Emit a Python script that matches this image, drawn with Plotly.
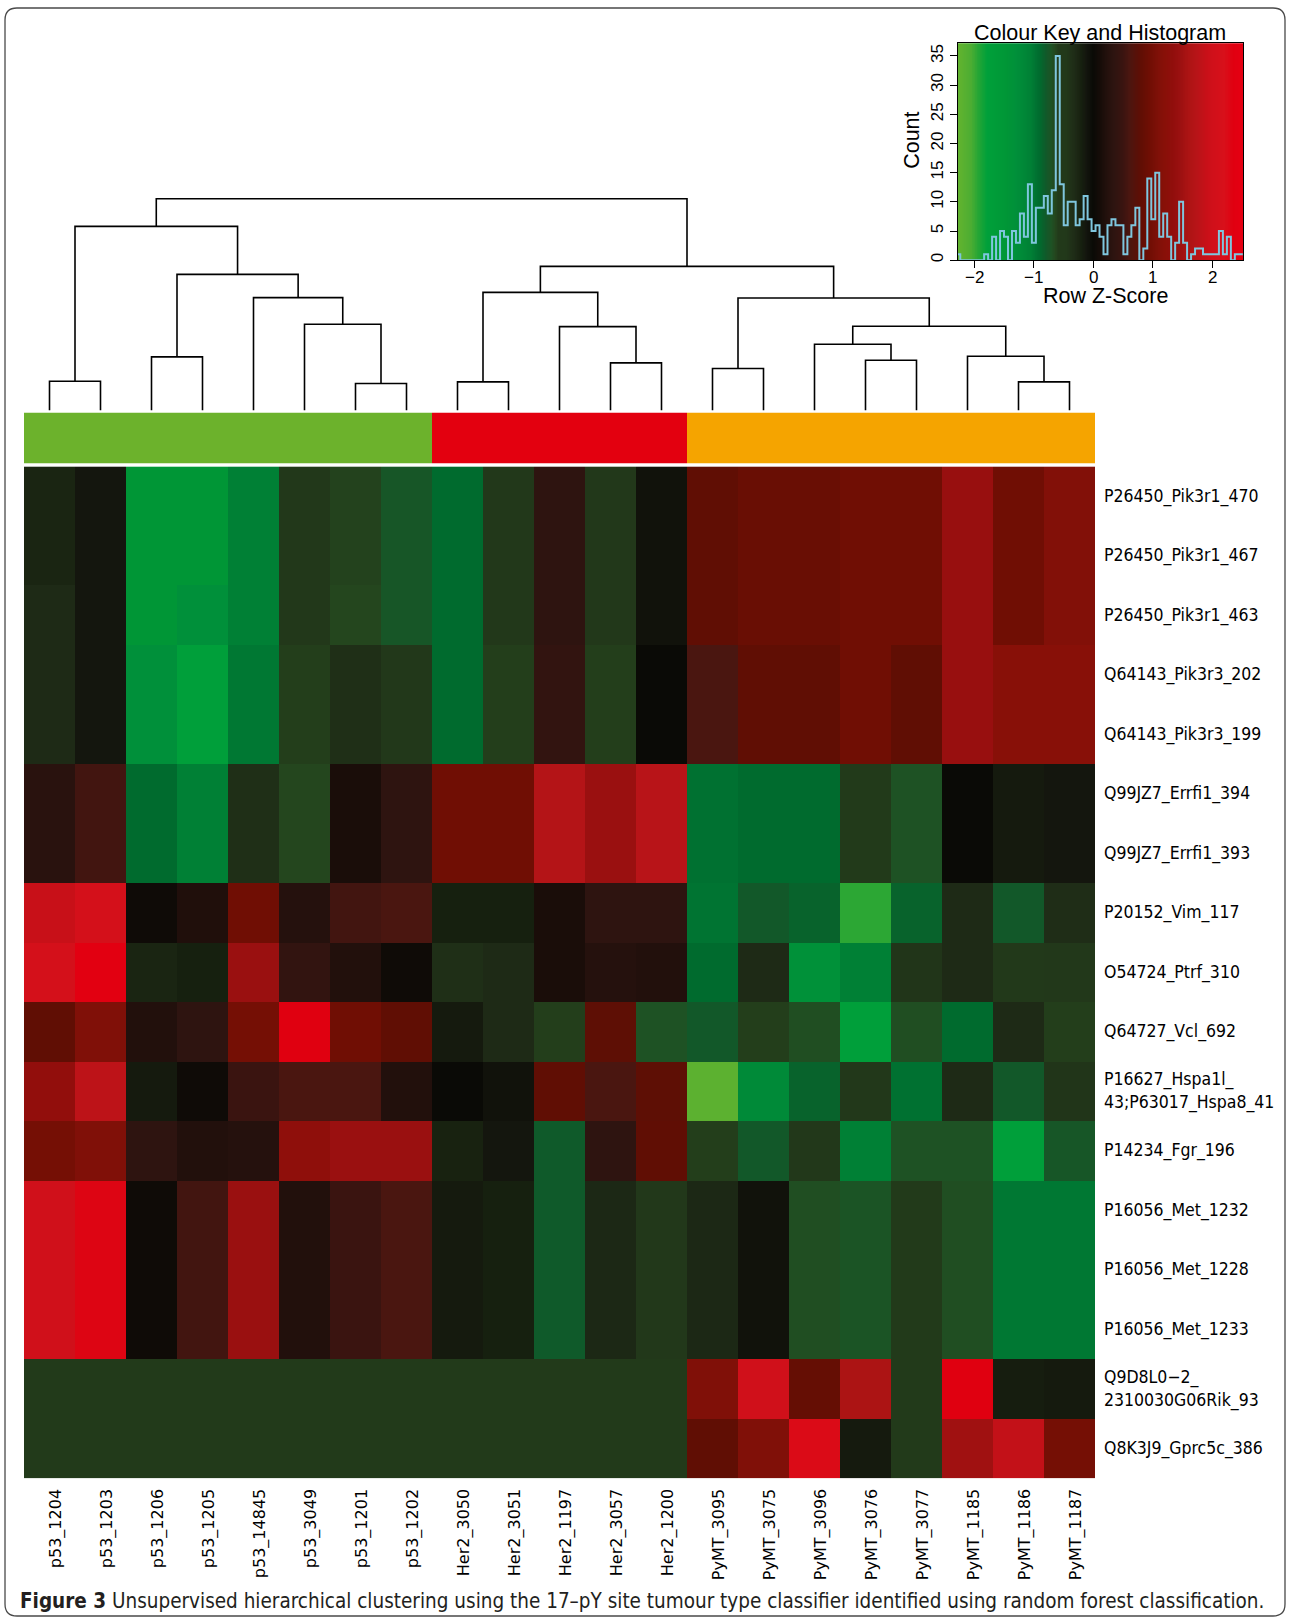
import numpy as np
import plotly.graph_objects as go

W, H = 1290, 1621

# ---------------- data ----------------
columns = ["p53_1204", "p53_1203", "p53_1206", "p53_1205", "p53_14845", "p53_3049",
           "p53_1201", "p53_1202", "Her2_3050", "Her2_3051", "Her2_1197", "Her2_3057",
           "Her2_1200", "PyMT_3095", "PyMT_3075", "PyMT_3096", "PyMT_3076", "PyMT_3077",
           "PyMT_1185", "PyMT_1186", "PyMT_1187"]
column_group = ["p53", "p53", "p53", "p53", "p53", "p53", "p53", "p53",
                "Her2", "Her2", "Her2", "Her2", "Her2",
                "PyMT", "PyMT", "PyMT", "PyMT", "PyMT", "PyMT", "PyMT", "PyMT"]
group_names = ["p53", "Her2", "PyMT"]

rows = ["P26450_Pik3r1_470", "P26450_Pik3r1_467", "P26450_Pik3r1_463",
        "Q64143_Pik3r3_202", "Q64143_Pik3r3_199", "Q99JZ7_Errfi1_394",
        "Q99JZ7_Errfi1_393", "P20152_Vim_117", "O54724_Ptrf_310", "Q64727_Vcl_692",
        "P16627_Hspa1l_<br>43;P63017_Hspa8_41", "P14234_Fgr_196", "P16056_Met_1232",
        "P16056_Met_1228", "P16056_Met_1233", "Q9D8L0−2_<br>2310030G06Rik_93",
        "Q8K3J9_Gprc5c_386"]

# row z-scores (rows x columns)
z = [
    [-0.25, -0.12, -1.45, -1.45, -1.05, -0.45, -0.62, -0.75, -0.90, -0.45, 0.35, -0.45, -0.08, 0.80, 0.88, 0.88, 0.95, 0.95, 1.42, 0.95, 1.12],
    [-0.25, -0.12, -1.45, -1.45, -1.05, -0.45, -0.62, -0.75, -0.90, -0.45, 0.35, -0.45, -0.08, 0.80, 0.88, 0.88, 0.95, 0.95, 1.42, 0.95, 1.12],
    [-0.30, -0.12, -1.45, -1.30, -1.05, -0.45, -0.64, -0.75, -0.90, -0.45, 0.35, -0.45, -0.08, 0.80, 0.88, 0.88, 0.95, 0.95, 1.42, 0.95, 1.12],
    [-0.30, -0.12, -1.30, -1.75, -1.00, -0.60, -0.35, -0.45, -0.90, -0.60, 0.40, -0.60, 0.00, 0.60, 0.80, 0.80, 0.95, 0.80, 1.42, 1.20, 1.20],
    [-0.30, -0.12, -1.30, -1.75, -1.00, -0.60, -0.35, -0.45, -0.90, -0.60, 0.40, -0.60, 0.00, 0.60, 0.80, 0.80, 0.95, 0.80, 1.42, 1.20, 1.20],
    [0.30, 0.55, -0.90, -1.05, -0.35, -0.64, 0.15, 0.35, 0.95, 0.95, 1.70, 1.45, 1.75, -0.95, -0.90, -0.90, -0.55, -0.70, 0.00, -0.15, -0.12],
    [0.30, 0.55, -0.90, -1.05, -0.35, -0.64, 0.15, 0.35, 0.95, 0.95, 1.70, 1.45, 1.75, -0.95, -0.90, -0.90, -0.55, -0.70, 0.00, -0.15, -0.12],
    [1.90, 2.10, 0.05, 0.20, 0.95, 0.25, 0.55, 0.60, -0.20, -0.20, 0.15, 0.35, 0.35, -0.97, -0.78, -0.85, -1.95, -0.85, -0.30, -0.78, -0.33],
    [2.10, 2.40, -0.25, -0.20, 1.45, 0.40, 0.22, 0.05, -0.35, -0.30, 0.15, 0.25, 0.22, -0.90, -0.30, -1.32, -1.05, -0.42, -0.30, -0.50, -0.45],
    [0.80, 1.10, 0.22, 0.35, 1.00, 2.35, 0.95, 0.80, -0.15, -0.30, -0.60, 0.78, -0.70, -0.78, -0.60, -0.68, -1.75, -0.68, -0.90, -0.30, -0.60],
    [1.35, 1.80, -0.15, 0.05, 0.50, 0.60, 0.60, 0.22, 0.00, -0.08, 0.80, 0.60, 0.78, -2.20, -1.20, -0.85, -0.45, -0.95, -0.30, -0.78, -0.42],
    [1.00, 1.10, 0.35, 0.22, 0.25, 1.30, 1.45, 1.45, -0.22, -0.12, -0.80, 0.35, 0.80, -0.60, -0.78, -0.45, -1.05, -0.70, -0.70, -1.75, -0.75],
    [2.00, 2.30, 0.05, 0.55, 1.45, 0.22, 0.50, 0.60, -0.15, -0.20, -0.80, -0.28, -0.45, -0.28, -0.08, -0.68, -0.72, -0.55, -0.68, -1.00, -1.00],
    [2.00, 2.30, 0.05, 0.55, 1.45, 0.22, 0.50, 0.60, -0.15, -0.20, -0.80, -0.28, -0.45, -0.28, -0.08, -0.68, -0.72, -0.55, -0.68, -1.00, -1.00],
    [2.00, 2.30, 0.05, 0.55, 1.45, 0.22, 0.50, 0.60, -0.15, -0.20, -0.80, -0.28, -0.45, -0.28, -0.08, -0.68, -0.72, -0.55, -0.68, -1.00, -1.00],
    [-0.58, -0.58, -0.58, -0.58, -0.58, -0.58, -0.58, -0.58, -0.58, -0.58, -0.58, -0.58, -0.58, 1.10, 2.00, 0.85, 1.60, -0.58, 2.35, -0.18, -0.15],
    [-0.58, -0.58, -0.58, -0.58, -0.58, -0.58, -0.58, -0.58, -0.58, -0.58, -0.58, -0.58, -0.58, 0.80, 1.10, 2.25, -0.15, -0.58, 1.50, 1.85, 1.00],
]

# column dendrogram (R-style merge matrix: negative = leaf number, positive = earlier merge)
merge_a = [-1, -3, -7, -6, -5, 2, 1, -9, -12, -11, 8, -14, -17, -16, -20, -19, 14, 12, 11, 7]
merge_b = [-2, -4, -8, 3, 4, 5, 6, -10, -13, 9, 10, -15, -18, 13, -21, 15, 16, 17, 18, 19]
merge_h = [2.93, 5.37, 2.70, 8.63, 11.30, 13.63, 18.43, 2.87, 4.77, 8.40, 11.83,
           4.20, 5.03, 6.63, 2.87, 5.43, 8.43, 11.27, 14.43, 21.20]

# colour-key histogram
hist_start = -2.298
hist_binwidth = 0.0668
hist_counts = [1, 0, 0, 0, 0, 0, 0, 1, 0, 4,
               0, 5, 4, 0, 5, 3, 8, 4, 13, 3,
               9, 9, 11, 8, 12, 35, 13, 6, 10, 10,
               6, 7, 11, 7, 5, 6, 4, 1, 6, 7,
               6, 6, 1, 4, 6, 9, 0, 2, 14, 7,
               15, 4, 8, 4, 0, 3, 10, 3, 0, 1,
               2, 2, 1, 1, 1, 1, 5, 1, 4, 0, 1, 1]
key_ticks = [-2, -1, 0, 1, 2]
key_tick_text = ["−2", "−1", "0", "1", "2"]
count_ticks = [0, 5, 10, 15, 20, 25, 30, 35]

caption_bold = "Figure 3"
caption_text = ("Unsupervised hierarchical clustering using the 17–pY site tumour type "
                "classifier identified using random forest classification.")

# ---------------- styles ----------------
ZMIN, ZMAX = -2.30, 2.52
colour_stops = [
    (-2.30, "#66b42e"), (-2.05, "#4cad32"), (-1.92, "#22a535"), (-1.78, "#00a03a"),
    (-1.45, "#009636"), (-1.30, "#00903a"), (-1.20, "#008a38"), (-1.05, "#008035"),
    (-0.97, "#007432"), (-0.90, "#006b2e"), (-0.80, "#0f5a2a"), (-0.70, "#1e5224"),
    (-0.64, "#24461e"), (-0.58, "#223a1a"), (-0.45, "#22381a"), (-0.30, "#1e2a16"),
    (-0.20, "#16200f"), (-0.12, "#14160e"), (0.00, "#0a0a06"), (0.12, "#160c08"),
    (0.22, "#22100c"), (0.35, "#2e1410"), (0.50, "#3a1410"), (0.60, "#4a1610"),
    (0.80, "#600e04"), (0.95, "#700e04"), (1.10, "#801008"), (1.20, "#881008"),
    (1.35, "#920e0c"), (1.45, "#9a1010"), (1.60, "#ac1414"), (1.75, "#b81418"),
    (1.90, "#c81018"), (2.00, "#d0101a"), (2.20, "#d8101a"), (2.35, "#e00010"),
    (2.52, "#e60012"),
]
colorscale = [[(v - ZMIN) / (ZMAX - ZMIN), c] for v, c in colour_stops]
group_colours = ["#6cb22c", "#e3000f", "#f5a400"]

ROW_FONT = "DejaVu Sans Condensed, Liberation Sans Narrow, Liberation Sans"
COL_FONT = "DejaVu Sans"
KEY_FONT = "Liberation Sans, Arial"


def px(x):
    return x / W


def py(y):
    return 1 - y / H


fig = go.Figure()

# main heatmap
fig.add_trace(go.Heatmap(z=z, x=list(range(len(columns))), y=list(range(len(rows))),
                         colorscale=colorscale, zmin=ZMIN, zmax=ZMAX, showscale=False,
                         hoverinfo="skip", xaxis="x", yaxis="y"))

# group colour bar
gidx = [group_names.index(g) for g in column_group]
gscale = [[0, group_colours[0]], [0.25, group_colours[0]], [0.25, group_colours[1]],
          [0.75, group_colours[1]], [0.75, group_colours[2]], [1, group_colours[2]]]
fig.add_trace(go.Heatmap(z=[gidx], x=list(range(len(columns))), y=[0], colorscale=gscale,
                         zmin=0, zmax=2, showscale=False, hoverinfo="skip",
                         xaxis="x", yaxis="y2"))

# dendrogram
pos, hts = {}, {}
dx, dy = [], []
for i, (a, b, h) in enumerate(zip(merge_a, merge_b, merge_h), start=1):
    def node(n):
        if n < 0:
            return -n - 1, 0.0
        return pos[n], hts[n]
    xa, ha = node(a)
    xb, hb = node(b)
    dx += [xa, xa, xb, xb, None]
    dy += [ha, h, h, hb, None]
    pos[i] = (xa + xb) / 2
    hts[i] = h
fig.add_trace(go.Scatter(x=dx, y=dy, mode="lines", line=dict(color="black", width=1.6),
                         hoverinfo="skip", showlegend=False, xaxis="x", yaxis="y3"))

# colour key gradient + histogram
key_lo, key_hi = -2.274, 2.515
grad_x = np.linspace(key_lo, key_hi, 400)
fig.add_trace(go.Heatmap(z=[grad_x, grad_x], x=grad_x, y=[0, 37.18], colorscale=colorscale,
                         zmin=ZMIN, zmax=ZMAX, showscale=False, hoverinfo="skip",
                         xaxis="x4", yaxis="y4"))
edges = [hist_start + k * hist_binwidth for k in range(len(hist_counts) + 1)]
fig.add_trace(go.Scatter(x=edges, y=hist_counts + [hist_counts[-1]], mode="lines",
                         line=dict(color="#7fc6de", width=2, shape="hv"),
                         hoverinfo="skip", showlegend=False, xaxis="x4", yaxis="y4"))

ann = []
# row labels
for i, r in enumerate(rows):
    ann.append(dict(x=px(1102), xref="paper", y=i, yref="y", text=r, showarrow=False,
                    xanchor="left", yanchor="middle", align="left",
                    font=dict(family=ROW_FONT, size=17.5, color="black")))
# column labels
for j, c in enumerate(columns):
    ann.append(dict(x=j, xref="x", y=py(1489), yref="paper", text=c, showarrow=False,
                    textangle=-90, xanchor="center", yanchor="top", xshift=6,
                    font=dict(family=COL_FONT, size=16, color="black")))
# key x tick labels
for v, t in zip(key_ticks, key_tick_text):
    ann.append(dict(x=v, xref="x4", y=py(278), yref="paper", text=t, showarrow=False,
                    xanchor="center", yanchor="middle",
                    font=dict(family=KEY_FONT, size=17, color="black")))
# key texts
ann.append(dict(x=px(1099.5), y=py(33), xref="paper", yref="paper",
                text="Colour Key and Histogram", showarrow=False, xanchor="center",
                yanchor="middle", font=dict(family=KEY_FONT, size=21.5, color="black")))
ann.append(dict(x=px(1105), y=py(296), xref="paper", yref="paper", text="Row Z-Score",
                showarrow=False, xanchor="center", yanchor="middle",
                font=dict(family=KEY_FONT, size=21.5, color="black")))
ann.append(dict(x=px(912), y=py(141), xref="paper", yref="paper", text="Count",
                showarrow=False, textangle=-90, xanchor="center", yanchor="middle",
                font=dict(family=KEY_FONT, size=21.5, color="black")))
# caption
ann.append(dict(x=px(18), y=py(1603), xref="paper", yref="paper",
                text="<b>" + caption_bold + "</b> " + caption_text, showarrow=False,
                xanchor="left", yanchor="middle",
                font=dict(family=ROW_FONT, size=20.5, color="#231f20")))

# rounded border
x0, y0, x1, y1, r = 5, 8, 1285, 1618, 12
def P(x, y):
    return f"{px(x):.5f},{py(y):.5f}"
border = (f"M {P(x0 + r, y0)} L {P(x1 - r, y0)} Q {P(x1, y0)} {P(x1, y0 + r)} "
          f"L {P(x1, y1 - r)} Q {P(x1, y1)} {P(x1 - r, y1)} L {P(x0 + r, y1)} "
          f"Q {P(x0, y1)} {P(x0, y1 - r)} L {P(x0, y0 + r)} Q {P(x0, y0)} {P(x0 + r, y0)} Z")

fig.update_layout(
    width=W, height=H, margin=dict(l=0, r=0, t=0, b=0),
    paper_bgcolor="white", plot_bgcolor="rgba(0,0,0,0)", showlegend=False,
    xaxis=dict(domain=[px(24), px(1095)], range=[-0.5, 20.5], visible=False,
               anchor="y", fixedrange=True),
    yaxis=dict(domain=[py(1480), py(467)], range=[16.5, -0.5], visible=False,
               anchor="x", fixedrange=True),
    yaxis2=dict(domain=[py(464), py(413)], range=[-0.5, 0.5], visible=False,
                anchor="x", fixedrange=True),
    yaxis3=dict(domain=[py(411), py(180)], range=[0, 23.1], visible=False,
                anchor="x", fixedrange=True),
    xaxis4=dict(domain=[px(957.7), px(1243)], range=[key_lo, key_hi], anchor="y4",
                showline=True, mirror=True, linecolor="black", linewidth=1,
                ticks="outside", ticklen=7, tickcolor="black", tickwidth=1,
                tickvals=key_ticks, showticklabels=False,
                showgrid=False, zeroline=False, fixedrange=True),
    yaxis4=dict(domain=[py(260.5), py(43.3)], range=[0, 37.18], anchor="x4",
                showline=True, mirror=True, linecolor="black", linewidth=1,
                ticks="outside", ticklen=7, tickcolor="black", tickwidth=1,
                tickvals=count_ticks, tickangle=-90,
                tickfont=dict(family=KEY_FONT, size=17, color="black"),
                showgrid=False, zeroline=False, fixedrange=True),
    annotations=ann,
    shapes=[dict(type="path", path=border, xref="paper", yref="paper",
                 line=dict(color="#4a4a4a", width=1.3))],
)

fig.write_html("out.html")
